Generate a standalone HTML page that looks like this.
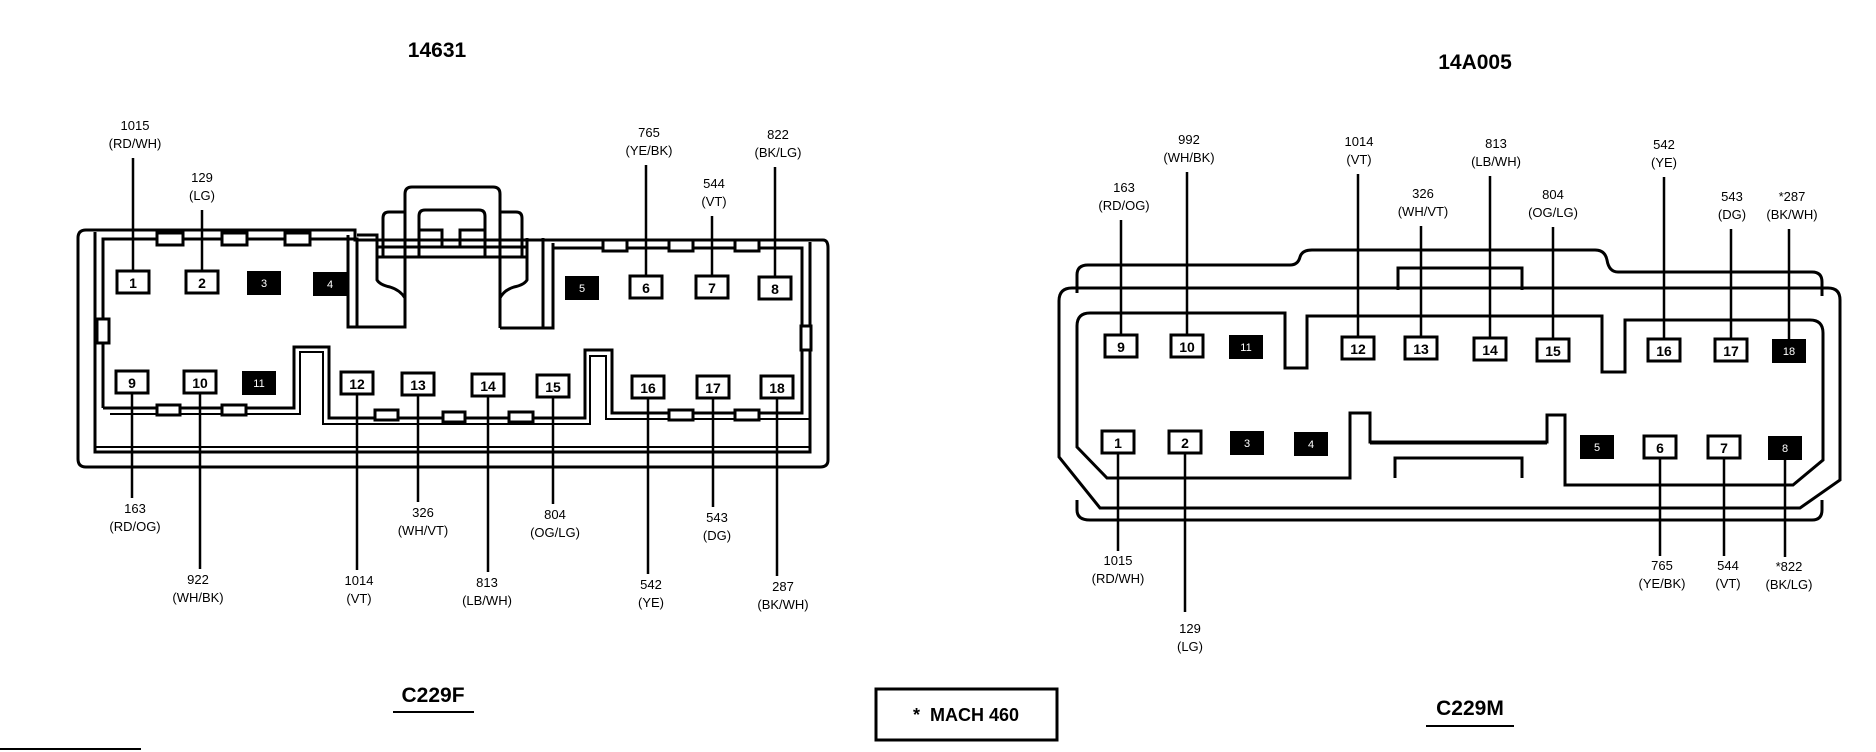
<!DOCTYPE html>
<html><head><meta charset="utf-8"><style>
html,body{margin:0;padding:0;background:#fff;}
svg{display:block;}
text{font-family:"Liberation Sans",Arial,sans-serif;fill:#000;}
.l{font-size:13px;text-anchor:middle;}
.t{font-size:21px;font-weight:bold;text-anchor:middle;}
.p{font-size:14px;text-anchor:middle;font-weight:bold;}
.pw{font-size:11px;text-anchor:middle;fill:#fff;}
</style></head><body>
<svg width="1876" height="752" viewBox="0 0 1876 752" xmlns="http://www.w3.org/2000/svg">
<g fill="none" stroke="#000" stroke-width="3">
<!-- LEFT CONNECTOR -->
<path d="M86 230 H355 V240 H823 Q828 240 828 248 V460 Q828 467 820 467 H86 Q78 467 78 459 V238 Q78 230 86 230 Z"/>
<path d="M95 232 V452 H810 V242"/>
<path d="M103 408 V239 H357 V327 H348"/>
<path d="M95 447 H810" stroke-width="2"/>
<!-- latch -->
<path d="M348 235 V327 H405 V194"/>
<path d="M405 194 Q405 187 412 187 H493 Q500 187 500 194 V328"/>
<path d="M419 257 V216 Q419 210 425 210 H479 Q485 210 485 216 V257"/>
<path d="M383 257 V218 Q383 212 389 212 H405 M500 212 H516 Q522 212 522 218 V257"/>
<path d="M377 247 H527 M377 257 H527"/>
<path d="M419 230 H442 V247 M485 230 H460 V247"/>
<path d="M357 235 H377 V280 Q380 285 390 287 Q400 290 405 298"/>
<path d="M527 238 V280 Q524 285 514 287 Q504 290 500 298"/>
<path d="M500 328 H553 V243 M543 238 V328"/>
<path d="M553 248 H802 V413 H612 V350 H585 V418 H329 V347 H294 V408 H103"/>
<path d="M110 414 H300 V352 H323 V424 H590 V356 H606 V419 H810" stroke-width="2"/>
<g fill="#fff">
<rect x="157" y="233" width="26" height="12"/><rect x="222" y="233" width="25" height="12"/><rect x="285" y="233" width="25" height="12"/>
<rect x="603" y="240" width="24" height="11"/><rect x="669" y="240" width="24" height="11"/><rect x="735" y="240" width="24" height="11"/>
<rect x="157" y="405" width="23" height="10"/><rect x="222" y="405" width="24" height="10"/>
<rect x="375" y="410" width="23" height="10"/><rect x="443" y="412" width="22" height="10"/><rect x="509" y="412" width="24" height="10"/>
<rect x="669" y="410" width="24" height="10"/><rect x="735" y="410" width="24" height="10"/>
<rect x="97" y="319" width="12" height="24"/><rect x="801" y="326" width="10" height="24"/>
</g>
<!-- RIGHT CONNECTOR -->
<path d="M1077 293 V275 Q1077 265 1088 265 H1290 Q1298 265 1300 257 Q1302 250 1312 250 H1595 Q1605 250 1607 260 Q1609 272 1618 272 H1812 Q1822 272 1822 282 V296"/>
<path d="M1398 290 V268 H1522 V290"/>
<path d="M1072 288 H1828 Q1840 288 1840 300 V480 L1800 508 H1100 L1059 457 V301 Q1059 288 1072 288 Z"/>
<path d="M1077 500 V510 Q1077 520 1090 520 H1812 Q1822 520 1822 510 V500"/>
<path d="M1090 313 H1285 V368 H1307 V316 H1602 V372 H1625 V320 H1810 Q1823 320 1823 333 V460 L1793 485 H1565 V415 H1547 V442 H1370 V413 H1350 V478 H1107 L1077 447 V326 Q1077 313 1090 313 Z"/>
<path d="M1370 443 H1547" />
<path d="M1395 478 V458 H1522 V478"/>
</g>
<!-- leader lines (vertical) -->
<g stroke="#000" stroke-width="2.5">
<line x1="133" y1="158" x2="133" y2="272"/><line x1="202" y1="210" x2="202" y2="272"/>
<line x1="646" y1="165" x2="646" y2="277"/><line x1="712" y1="216" x2="712" y2="277"/><line x1="775" y1="167" x2="775" y2="278"/>
<line x1="132" y1="393" x2="132" y2="498"/><line x1="200" y1="393" x2="200" y2="569"/><line x1="357" y1="393" x2="357" y2="570"/>
<line x1="418" y1="394" x2="418" y2="502"/><line x1="488" y1="395" x2="488" y2="572"/><line x1="553" y1="396" x2="553" y2="504"/>
<line x1="648" y1="398" x2="648" y2="574"/><line x1="713" y1="398" x2="713" y2="507"/><line x1="777" y1="398" x2="777" y2="576"/>
<line x1="1121" y1="220" x2="1121" y2="335"/><line x1="1187" y1="172" x2="1187" y2="335"/><line x1="1358" y1="174" x2="1358" y2="337"/>
<line x1="1421" y1="226" x2="1421" y2="337"/><line x1="1490" y1="176" x2="1490" y2="338"/><line x1="1553" y1="227" x2="1553" y2="339"/>
<line x1="1664" y1="177" x2="1664" y2="339"/><line x1="1731" y1="229" x2="1731" y2="339"/><line x1="1789" y1="229" x2="1789" y2="339"/>
<line x1="1118" y1="453" x2="1118" y2="551"/><line x1="1185" y1="453" x2="1185" y2="612"/>
<line x1="1660" y1="458" x2="1660" y2="556"/><line x1="1724" y1="458" x2="1724" y2="556"/><line x1="1785" y1="458" x2="1785" y2="557"/>
</g>
<g stroke="#000" stroke-width="3" fill="#fff">
<rect x="117" y="271" width="32" height="22"/><rect x="186" y="271" width="32" height="22"/>
<rect x="630" y="276" width="32" height="22"/><rect x="696" y="276" width="32" height="22"/><rect x="759" y="277" width="32" height="22"/>
<rect x="116" y="371" width="32" height="22"/><rect x="184" y="371" width="32" height="22"/><rect x="341" y="372" width="32" height="22"/>
<rect x="402" y="373" width="32" height="22"/><rect x="472" y="374" width="32" height="22"/><rect x="537" y="375" width="32" height="22"/>
<rect x="632" y="376" width="32" height="22"/><rect x="697" y="376" width="32" height="22"/><rect x="761" y="376" width="32" height="22"/>
<rect x="1105" y="335" width="32" height="22"/><rect x="1171" y="335" width="32" height="22"/><rect x="1342" y="337" width="32" height="22"/>
<rect x="1405" y="337" width="32" height="22"/><rect x="1474" y="338" width="32" height="22"/><rect x="1537" y="339" width="32" height="22"/>
<rect x="1648" y="339" width="32" height="22"/><rect x="1715" y="339" width="32" height="22"/>
<rect x="1102" y="431" width="32" height="22"/><rect x="1169" y="431" width="32" height="22"/>
<rect x="1644" y="436" width="32" height="22"/><rect x="1708" y="436" width="32" height="22"/>
</g>
<g fill="#000">
<rect x="247" y="271" width="34" height="24"/><rect x="313" y="272" width="34" height="24"/><rect x="565" y="276" width="34" height="24"/>
<rect x="242" y="371" width="34" height="24"/>
<rect x="1229" y="335" width="34" height="24"/><rect x="1772" y="339" width="34" height="24"/>
<rect x="1230" y="431" width="34" height="24"/><rect x="1294" y="432" width="34" height="24"/><rect x="1580" y="435" width="34" height="24"/><rect x="1768" y="436" width="34" height="24"/>
</g>
<text class="p" x="133" y="288">1</text><text class="p" x="202" y="288">2</text>
<text class="p" x="646" y="293">6</text><text class="p" x="712" y="293">7</text><text class="p" x="775" y="294">8</text>
<text class="p" x="132" y="388">9</text><text class="p" x="200" y="388">10</text><text class="p" x="357" y="389">12</text>
<text class="p" x="418" y="390">13</text><text class="p" x="488" y="391">14</text><text class="p" x="553" y="392">15</text>
<text class="p" x="648" y="393">16</text><text class="p" x="713" y="393">17</text><text class="p" x="777" y="393">18</text>
<text class="p" x="1121" y="352">9</text><text class="p" x="1187" y="352">10</text><text class="p" x="1358" y="354">12</text>
<text class="p" x="1421" y="354">13</text><text class="p" x="1490" y="355">14</text><text class="p" x="1553" y="356">15</text>
<text class="p" x="1664" y="356">16</text><text class="p" x="1731" y="356">17</text>
<text class="p" x="1118" y="448">1</text><text class="p" x="1185" y="448">2</text>
<text class="p" x="1660" y="453">6</text><text class="p" x="1724" y="453">7</text>
<text class="pw" x="264" y="287">3</text><text class="pw" x="330" y="288">4</text><text class="pw" x="582" y="292">5</text><text class="pw" x="259" y="387">11</text>
<text class="pw" x="1246" y="351">11</text><text class="pw" x="1789" y="355">18</text>
<text class="pw" x="1247" y="447">3</text><text class="pw" x="1311" y="448">4</text><text class="pw" x="1597" y="451">5</text><text class="pw" x="1785" y="452">8</text>
<text class="l" x="135" y="130">1015</text><text class="l" x="135" y="148">(RD/WH)</text>
<text class="l" x="202" y="182">129</text><text class="l" x="202" y="200">(LG)</text>
<text class="l" x="649" y="137">765</text><text class="l" x="649" y="155">(YE/BK)</text>
<text class="l" x="714" y="188">544</text><text class="l" x="714" y="206">(VT)</text>
<text class="l" x="778" y="139">822</text><text class="l" x="778" y="157">(BK/LG)</text>
<text class="l" x="135" y="513">163</text><text class="l" x="135" y="531">(RD/OG)</text>
<text class="l" x="198" y="584">922</text><text class="l" x="198" y="602">(WH/BK)</text>
<text class="l" x="359" y="585">1014</text><text class="l" x="359" y="603">(VT)</text>
<text class="l" x="423" y="517">326</text><text class="l" x="423" y="535">(WH/VT)</text>
<text class="l" x="487" y="587">813</text><text class="l" x="487" y="605">(LB/WH)</text>
<text class="l" x="555" y="519">804</text><text class="l" x="555" y="537">(OG/LG)</text>
<text class="l" x="651" y="589">542</text><text class="l" x="651" y="607">(YE)</text>
<text class="l" x="717" y="522">543</text><text class="l" x="717" y="540">(DG)</text>
<text class="l" x="783" y="591">287</text><text class="l" x="783" y="609">(BK/WH)</text>
<text class="l" x="1189" y="144">992</text><text class="l" x="1189" y="162">(WH/BK)</text>
<text class="l" x="1124" y="192">163</text><text class="l" x="1124" y="210">(RD/OG)</text>
<text class="l" x="1359" y="146">1014</text><text class="l" x="1359" y="164">(VT)</text>
<text class="l" x="1423" y="198">326</text><text class="l" x="1423" y="216">(WH/VT)</text>
<text class="l" x="1496" y="148">813</text><text class="l" x="1496" y="166">(LB/WH)</text>
<text class="l" x="1553" y="199">804</text><text class="l" x="1553" y="217">(OG/LG)</text>
<text class="l" x="1664" y="149">542</text><text class="l" x="1664" y="167">(YE)</text>
<text class="l" x="1732" y="201">543</text><text class="l" x="1732" y="219">(DG)</text>
<text class="l" x="1792" y="201">*287</text><text class="l" x="1792" y="219">(BK/WH)</text>
<text class="l" x="1118" y="565">1015</text><text class="l" x="1118" y="583">(RD/WH)</text>
<text class="l" x="1190" y="633">129</text><text class="l" x="1190" y="651">(LG)</text>
<text class="l" x="1662" y="570">765</text><text class="l" x="1662" y="588">(YE/BK)</text>
<text class="l" x="1728" y="570">544</text><text class="l" x="1728" y="588">(VT)</text>
<text class="l" x="1789" y="571">*822</text><text class="l" x="1789" y="589">(BK/LG)</text>
<text class="t" x="437" y="57">14631</text>
<text class="t" x="1475" y="69">14A005</text>
<text class="t" x="433" y="702">C229F</text>
<line x1="393" y1="712" x2="474" y2="712" stroke="#000" stroke-width="2"/>
<text class="t" x="1470" y="715">C229M</text>
<line x1="1426" y1="726" x2="1514" y2="726" stroke="#000" stroke-width="2"/>
<rect x="876" y="689" width="181" height="51" fill="none" stroke="#000" stroke-width="3"/>
<text x="966" y="721" style="font-size:18px;font-weight:bold;text-anchor:middle">*&#160;&#160;MACH 460</text>
<line x1="0" y1="749" x2="141" y2="749" stroke="#000" stroke-width="2"/>
</svg>
</body></html>
